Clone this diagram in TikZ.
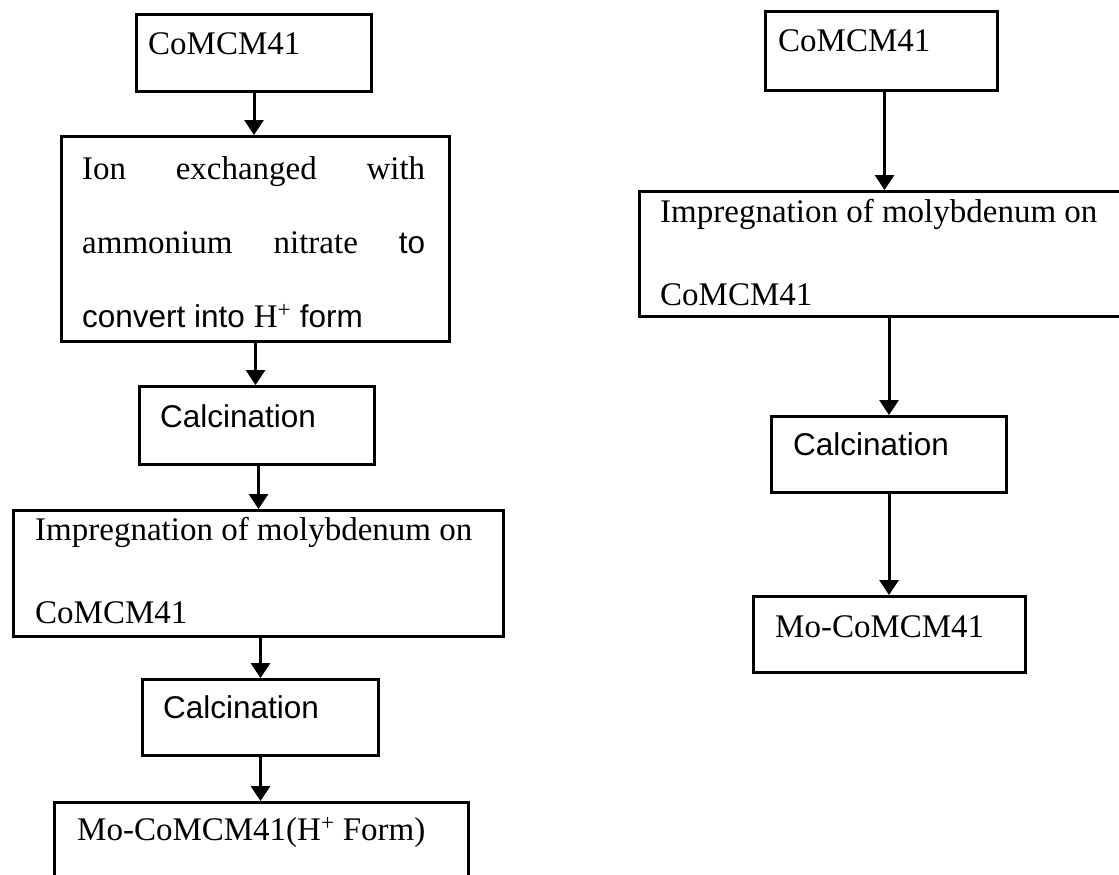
\documentclass[tikz,border=0pt]{standalone}
\usepackage{fontspec}
\setmainfont{Liberation Serif}
\setsansfont{Liberation Sans}
\usetikzlibrary{arrows.meta}
\newcommand{\serifsize}{\fontsize{33}{40}\rmfamily\selectfont}
\newcommand{\sanssize}{\fontsize{31.5}{38}\sffamily\selectfont}
\begin{document}
\begin{tikzpicture}[x=1pt,y=-1pt,
  box/.style={draw, line width=3pt, rectangle, inner sep=0pt, anchor=north west},
  lbl/.style={inner sep=0pt, anchor=base west, font=\serifsize},
  slbl/.style={inner sep=0pt, anchor=base west, font=\sanssize},
  arr/.style={line width=3pt, -{Triangle[length=15pt,width=19pt]}}]
\useasboundingbox (0,0) rectangle (1119,875);
\clip (0,0) rectangle (1119,875);
% left column boxes
\node[box, minimum width=235pt, minimum height=77pt] (b1) at (135,13) {};
\node[box, minimum width=388pt, minimum height=205pt] (b2) at (60,135) {};
\node[box, minimum width=235pt, minimum height=78pt] (b3) at (138,385) {};
\node[box, minimum width=490pt, minimum height=126pt] (b4) at (12,509) {};
\node[box, minimum width=236pt, minimum height=76pt] (b5) at (141,678) {};
\node[box, minimum width=414pt, minimum height=99pt] (b6) at (53,801) {};
% right column boxes
\node[box, minimum width=232pt, minimum height=79pt] (r1) at (764,10) {};
\node[box, minimum width=490pt, minimum height=125pt] (r2) at (638,190) {};
\node[box, minimum width=235pt, minimum height=76pt] (r3) at (770,415) {};
\node[box, minimum width=272pt, minimum height=76pt] (r4) at (752,595) {};
% left texts
\node[lbl] (t1) at (148,55) {CoMCM41};
\node[lbl] (t2a) at (82,179) {\makebox[343pt][s]{Ion exchanged with}};
\node[lbl] (t2b) at (82,253) {\makebox[343pt][s]{ammonium nitrate {\sanssize to}}};
\node[lbl] (t2c) at (82,327) {{\sanssize convert into }H\textsuperscript{+}{\sanssize\ form}};
\node[slbl] (t3) at (160,427) {Calcination};
\node[lbl] (t4a) at (35,540) {Impregnation of molybdenum on};
\node[lbl] (t4b) at (35,623) {CoMCM41};
\node[slbl] (t5) at (163,718) {Calcination};
\node[lbl] (t6) at (77,840) {Mo-CoMCM41(H\textsuperscript{+} Form)};
% right texts
\node[lbl] (u1) at (778,52) {CoMCM41};
\node[lbl] (u2a) at (660,222) {Impregnation of molybdenum on};
\node[lbl] (u2b) at (660,305) {CoMCM41};
\node[slbl] (u3) at (793,455) {Calcination};
\node[lbl] (u4) at (775,637) {Mo-CoMCM41};
% connectors left
\draw[arr] (b1.south) -- (b1.south |- b2.north);
\draw[arr] (b2.south) -- (b2.south |- b3.north);
\draw[arr] (b3.south -| b4.north) -- (b4.north);
\draw[arr] (b4.south -| b5.north) -- (b5.north);
\draw[arr] (b5.south) -- (b5.south |- b6.north);
% connectors right
\draw[arr] (r1.south -| r2.north) -- (r2.north);
\draw[arr] (r2.south -| r3.north) -- (r3.north);
\draw[arr] (r3.south) -- (r3.south |- r4.north);
\end{tikzpicture}
\end{document}
